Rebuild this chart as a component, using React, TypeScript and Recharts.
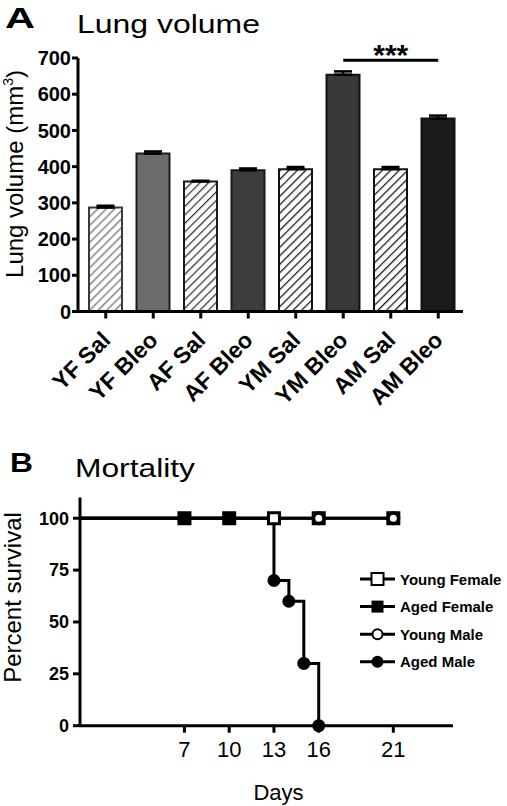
import React from "react";
import {
  BarChart,
  Bar,
  Cell,
  ErrorBar,
  XAxis,
  YAxis,
  ReferenceLine,
  LineChart,
  Line,
} from "recharts";

// panel A data
const groups = ["YF Sal", "YF Bleo", "AF Sal", "AF Bleo", "YM Sal", "YM Bleo", "AM Sal", "AM Bleo"];
const volumes = [287, 436, 359, 390, 393, 654, 393, 533];
const volumeErr = [5, 6, 2, 5, 6, 9, 6, 8];
const volumeTicks = [0, 100, 200, 300, 400, 500, 600, 700];
const sigPair = ["YM Bleo", "AM Bleo"];
const sigLevel = 694;

// panel B data (Kaplan-Meier steps)
const yfDays = [0, 13, 16, 21];
const yfSurv = [100, 100, 100, 100];
const afDays = [0, 7, 10];
const afSurv = [100, 100, 100];
const ymDays = [0, 16, 21];
const ymSurv = [100, 100, 100];
const amDays = [0, 13, 14, 15, 16];
const amSurv = [100, 70, 60, 30, 0];
const dayTicks = [7, 10, 13, 16, 21];
const survTicks = [0, 25, 50, 75, 100];
const seriesNames = ["Young Female", "Aged Female", "Young Male", "Aged Male"];

const FONT = '"Liberation Sans", Arial, sans-serif';

const barFills = [
  "url(#hatchLight)",
  "#6b6b6b",
  "url(#hatchMid)",
  "#3d3d3d",
  "url(#hatchDark)",
  "#383838",
  "url(#hatchDark)",
  "#1a1a1a",
];
const barStrokes = ["#3a3a3a", "#1a1a1a", "#1a1a1a", "#1a1a1a", "#111", "#111", "#111", "#111"];

const barData = groups.map((g, i) => ({ name: g, value: volumes[i], err: [0, volumeErr[i]] }));
const mk = (days: number[], surv: number[]) => days.map((d, i) => ({ day: d, surv: surv[i] }));

const GroupTick = (props: any) => {
  const { x, y, payload } = props;
  return (
    <g transform={`translate(${x + 6},${y + 21})`}>
      <text
        transform="rotate(-45)"
        textAnchor="end"
        fontFamily={FONT}
        fontWeight="bold"
        fontSize={23}
        fill="#000"
      >
        {payload.value}
      </text>
    </g>
  );
};

const StarsLabel = (props: any) => {
  const vb = props.viewBox || {};
  const x1 = vb.x1 != null ? vb.x1 : vb.x;
  const x2 = vb.x2 != null ? vb.x2 : vb.x + (vb.width || 0);
  const y = vb.y1 != null ? vb.y1 : vb.y;
  return (
    <text
      x={(x1 + x2) / 2}
      y={y + 4.5}
      textAnchor="middle"
      fontFamily={FONT}
      fontWeight="bold"
      fontSize={30}
      fill="#000"
    >
      ***
    </text>
  );
};

const marker = (kind: string) => (props: any) => {
  const { cx, cy, index } = props;
  const key = `m-${kind}-${index}`;
  if (index === 0 || cx == null) return <g key={key} />;
  if (kind === "openSq")
    return <rect key={key} x={cx - 5.5} y={cy - 5.5} width={11} height={11} fill="#fff" stroke="#000" strokeWidth={3} />;
  if (kind === "fillSq")
    return <rect key={key} x={cx - 7} y={cy - 7} width={14} height={14} fill="#000" />;
  if (kind === "openCirc")
    return <circle key={key} cx={cx} cy={cy} r={5.25} fill="#fff" stroke="#000" strokeWidth={3.5} />;
  return <circle key={key} cx={cx} cy={cy} r={6.5} fill="#000" />;
};

const legendKinds = ["openSq", "fillSq", "openCirc", "fillCirc"];

const LegendIcon = ({ kind, cx, cy }: { kind: string; cx: number; cy: number }) => {
  if (kind === "openSq") return <rect x={cx - 6} y={cy - 6} width={12} height={12} fill="#fff" stroke="#000" strokeWidth={2} />;
  if (kind === "fillSq") return <rect x={cx - 6} y={cy - 6} width={12} height={12} fill="#000" />;
  if (kind === "openCirc") return <circle cx={cx} cy={cy} r={5} fill="#fff" stroke="#000" strokeWidth={2} />;
  return <circle cx={cx} cy={cy} r={6} fill="#000" />;
};

export default function App() {
  const axisStyle = { stroke: "#000", strokeWidth: 3 };
  return (
    <div style={{ position: "absolute", left: 0, top: 0, width: 507, height: 806, background: "#fff", fontFamily: FONT }}>
      <div style={{ position: "absolute", left: 0, top: 0 }}>
        <BarChart width={507} height={420} data={barData} margin={{ top: 58, right: 44, left: 0, bottom: 0 }} barSize={33}>
          <defs>
            <pattern id="hatchLight" patternUnits="userSpaceOnUse" width="6" height="6" patternTransform="rotate(45)">
              <rect width="6" height="6" fill="#fff" />
              <line x1="0" y1="0" x2="0" y2="6" stroke="#858585" strokeWidth="3" />
            </pattern>
            <pattern id="hatchMid" patternUnits="userSpaceOnUse" width="6" height="6" patternTransform="rotate(45)">
              <rect width="6" height="6" fill="#fff" />
              <line x1="0" y1="0" x2="0" y2="6" stroke="#3a3a3a" strokeWidth="2.6" />
            </pattern>
            <pattern id="hatchDark" patternUnits="userSpaceOnUse" width="6" height="6" patternTransform="rotate(45)">
              <rect width="6" height="6" fill="#fff" />
              <line x1="0" y1="0" x2="0" y2="6" stroke="#1a1a1a" strokeWidth="2.6" />
            </pattern>
          </defs>
          <XAxis
            dataKey="name"
            height={108.5}
            padding={{ left: 4, right: 1 }}
            axisLine={axisStyle}
            tickLine={axisStyle}
            tickSize={7}
            interval={0}
            tick={<GroupTick />}
          />
          <YAxis
            width={78}
            domain={[0, 700]}
            ticks={volumeTicks}
            axisLine={axisStyle}
            tickLine={axisStyle}
            tickSize={6}
            tickMargin={1}
            tick={{ fill: "#000", fontSize: 20, fontWeight: "bold", fontFamily: FONT }}
          />
          <Bar dataKey="value" strokeWidth={2} isAnimationActive={false}>
            {barData.map((d, i) => (
              <Cell key={d.name} fill={barFills[i]} stroke={barStrokes[i]} />
            ))}
            <ErrorBar dataKey="err" direction="y" width={9} stroke="#000" strokeWidth={2.5} />
          </Bar>
          <ReferenceLine
            segment={[
              { x: sigPair[0], y: sigLevel },
              { x: sigPair[1], y: sigLevel },
            ]}
            stroke="#000"
            strokeWidth={3}
            ifOverflow="visible"
            label={<StarsLabel />}
          />
        </BarChart>
      </div>

      <div style={{ position: "absolute", left: 0, top: 440 }}>
        <LineChart width={507} height={366} margin={{ top: 57.5, right: 54, left: 0, bottom: 0 }}>
          <XAxis
            dataKey="day"
            type="number"
            domain={[0, 25]}
            ticks={dayTicks}
            allowDataOverflow
            height={80.3}
            axisLine={axisStyle}
            tickLine={axisStyle}
            tickSize={7}
            tickMargin={9}
            tick={{ fill: "#000", fontSize: 22, fontFamily: FONT }}
          />
          <YAxis
            width={80}
            domain={[0, 110]}
            ticks={survTicks}
            axisLine={axisStyle}
            tickLine={axisStyle}
            tickSize={7}
            tickMargin={4}
            tick={{ fill: "#000", fontSize: 18, fontWeight: "bold", fontFamily: FONT }}
          />
          <Line data={mk(amDays, amSurv)} dataKey="surv" type="stepAfter" stroke="#000" strokeWidth={3} dot={marker("fillCirc")} activeDot={false} isAnimationActive={false} />
          <Line data={mk(afDays, afSurv)} dataKey="surv" type="stepAfter" stroke="#000" strokeWidth={3} dot={marker("fillSq")} activeDot={false} isAnimationActive={false} />
          <Line data={mk(yfDays, yfSurv)} dataKey="surv" type="stepAfter" stroke="#000" strokeWidth={3} dot={marker("openSq")} activeDot={false} isAnimationActive={false} />
          <Line data={mk(ymDays, ymSurv)} dataKey="surv" type="stepAfter" stroke="#000" strokeWidth={3} dot={marker("openCirc")} activeDot={false} isAnimationActive={false} />
        </LineChart>
      </div>

      <svg width={507} height={806} style={{ position: "absolute", left: 0, top: 0, pointerEvents: "none" }} fontFamily={FONT}>
        <text x={5} y={28} fontSize={30} fontWeight="bold" textLength={30} lengthAdjust="spacingAndGlyphs">A</text>
        <text x={77} y={33} fontSize={25} textLength={183} lengthAdjust="spacingAndGlyphs">Lung volume</text>
        <text x={23} y={174} fontSize={24} textAnchor="middle" transform="rotate(-90, 23, 174)">
          Lung volume (mm<tspan fontSize={14} dy={-10}>3</tspan>
          <tspan dy={10}>)</tspan>
        </text>

        <text x={10} y={472} fontSize={28} fontWeight="bold" textLength={23} lengthAdjust="spacingAndGlyphs">B</text>
        <text x={75} y={476.5} fontSize={26} textLength={120} lengthAdjust="spacingAndGlyphs">Mortality</text>
        <text x={21} y={597.5} fontSize={24} textAnchor="middle" transform="rotate(-90, 21, 597.5)">Percent survival</text>
        <text x={278.5} y={800} fontSize={22} textAnchor="middle">Days</text>

        {seriesNames.map((name, i) => {
          const cy = 579 + i * 27.6;
          return (
            <g key={name}>
              <line x1={360} x2={395} y1={cy} y2={cy} stroke="#000" strokeWidth={3} />
              <LegendIcon kind={legendKinds[i]} cx={377.5} cy={cy} />
              <text x={400} y={cy + 5.5} fontSize={15} fontWeight="bold">{name}</text>
            </g>
          );
        })}
      </svg>
    </div>
  );
}
